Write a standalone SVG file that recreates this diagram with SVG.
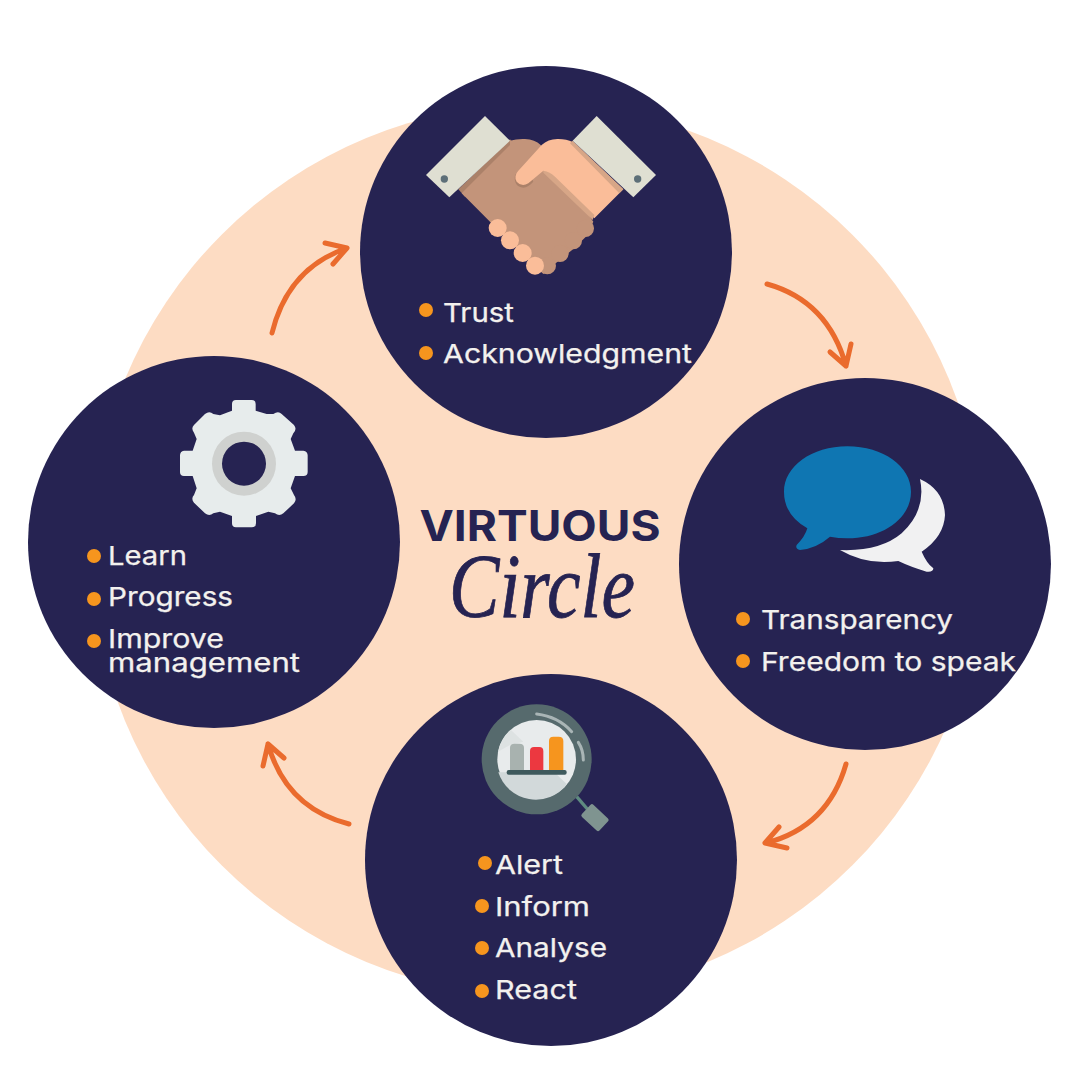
<svg xmlns="http://www.w3.org/2000/svg" width="1080" height="1080" viewBox="0 0 1080 1080">
<style>
.node{fill:#262352}
.lbl{font-family:"Inter","Noto Sans","Liberation Sans",sans-serif;font-size:26px;font-weight:400;fill:#f3f1ee;stroke:#f3f1ee;stroke-width:.25}
.dot{fill:#f6951e}
.arr{fill:none;stroke:#ea6b2d;stroke-width:5;stroke-linecap:round;stroke-linejoin:round}
</style>
<rect width="1080" height="1080" fill="#ffffff"/>
<circle id="backdrop" cx="537" cy="550" r="446" fill="#fddcc3"/>
<g id="connectors">
<path class="arr" d="M767 284Q828 301 846 366M830 352L846 366L851 344"/>
<path class="arr" d="M846 764Q828 827 766 843M779 827L765 843L787 848"/>
<path class="arr" d="M349 824Q286 808 268 744M284 758L268 744L263 766"/>
<path class="arr" d="M272 333Q288 268 347 248M333 264L347 248L325 243"/>
</g>
<g id="title">
<text x="540" y="541" text-anchor="middle" font-family="Inter,'Noto Sans',sans-serif" font-size="42" font-weight="700" fill="#262352" textLength="241" lengthAdjust="spacingAndGlyphs">VIRTUOUS</text>
<text x="542" y="617" text-anchor="middle" font-family="'Liberation Serif',serif" font-style="italic" font-size="92" fill="#262352" stroke="#262352" stroke-width=".8" textLength="186" lengthAdjust="spacingAndGlyphs">Circle</text>
</g>
<g id="node-top">
<circle class="node" cx="546" cy="252" r="186"/>
<g transform="translate(410 100) scale(.33333)">
<path fill="#ab8169" d="M300 118L145 268L165 290L320 140Z"/>
<path fill="#c3947a" d="M300 122Q320 116 345 117Q375 118 392 135L550 365L530 408L490 447L437 490L400 522L240 365L155 280L300 135Z"/>
<g fill="#c3947a"><circle cx="526" cy="385" r="26"/><circle cx="490" cy="422" r="26"/><circle cx="450" cy="460" r="26"/><circle cx="412" cy="497" r="26"/></g>
<path fill="#ab8169" d="M315 225Q310 260 340 263Q355 262 370 245L350 200Z"/>
<path fill="#fabd99" d="M488 126L640 268L553 355L400 212L355 250Q335 262 320 245Q310 228 325 212L395 135Q415 116 445 117Q470 117 488 126Z"/>
<path fill="#d7a687" d="M400 212Q420 215 435 230L553 345L548 360L400 218Z"/>
<path fill="#d7a687" d="M488 122L640 268L628 280L480 130Z"/>
<g fill="#fabd99"><circle cx="263" cy="384" r="27"/><circle cx="300" cy="421" r="27"/><circle cx="338" cy="459" r="27"/><circle cx="375" cy="497" r="27"/></g>
<path fill="#dfdfd2" d="M225 48L300 122L118 292L48 225Z"/>
<path fill="#dfdfd2" d="M560 48L488 122L670 292L738 225Z"/>
<circle cx="103" cy="237" r="11" fill="#5d6f78"/>
<circle cx="683" cy="237" r="11" fill="#5d6f78"/>
</g>
<circle class="dot" cx="426" cy="310" r="7"/><text class="lbl" x="443" y="322" textLength="71" lengthAdjust="spacingAndGlyphs">Trust</text>
<circle class="dot" cx="426" cy="353" r="7"/><text class="lbl" x="443" y="363" textLength="249" lengthAdjust="spacingAndGlyphs">Acknowledgment</text>
</g>
<g id="node-right">
<circle class="node" cx="865" cy="564" r="186"/>
<g transform="translate(770 435) scale(.33333)">
<path fill="#f1f1f2" d="M450 132Q522 165 525 240Q522 305 455 350Q470 385 490 400Q490 412 470 410Q420 395 385 378Q290 392 210 345Q330 350 395 295Q470 225 450 132Z"/>
<path fill="#0f76b2" d="M232 34C340 34 423 95 423 170C423 250 340 310 232 310Q205 310 180 305Q140 340 90 345Q75 342 80 330Q105 305 112 280Q42 240 42 170C42 95 125 34 232 34Z"/>
</g>
<circle class="dot" cx="743" cy="619" r="7"/><text class="lbl" x="761" y="629" textLength="192" lengthAdjust="spacingAndGlyphs">Transparency</text>
<circle class="dot" cx="743" cy="661" r="7"/><text class="lbl" x="761" y="671" textLength="255" lengthAdjust="spacingAndGlyphs">Freedom to speak</text>
</g>
<g id="node-bottom">
<circle class="node" cx="551" cy="860" r="186"/>
<g transform="translate(470 695) scale(.33333)">
<path d="M320 305L352 342" stroke="#5f8a80" stroke-width="10" fill="none"/>
<rect x="339" y="343" width="72" height="50" rx="6" transform="rotate(43 375 368)" fill="#7f9490"/>
<circle cx="200" cy="193" r="165" fill="#566a6d"/>
<circle cx="200" cy="193" r="118" fill="#e8ebec"/>
<path fill="#d2d9da" d="M85 232L253 232L291 268A118 118 0 0 1 85 232Z"/>
<path fill="#dde2e2" d="M122 104A118 118 0 0 0 84 170L120 150L160 140Z"/>
<path fill="#a8b2af" d="M120 158Q120 146 134 146H148Q162 146 162 158V226H120Z"/>
<path fill="#ec3840" d="M180 168Q180 156 192 156H208Q220 156 220 168V226H180Z"/>
<path fill="#f6951e" d="M237 138Q237 125 250 125H266Q280 125 280 138V226H237Z"/>
<rect x="110" y="225" width="180" height="14" rx="6" fill="#3f5a5d"/>
<path d="M200 57Q265 65 305 110M325 142Q340 165 340 195" fill="none" stroke="#a9b5b6" stroke-width="9" stroke-linecap="round"/>
</g>
<circle class="dot" cx="485" cy="863" r="7"/><text class="lbl" x="495" y="874" textLength="68" lengthAdjust="spacingAndGlyphs">Alert</text>
<circle class="dot" cx="482" cy="906" r="7"/><text class="lbl" x="495" y="916" textLength="95" lengthAdjust="spacingAndGlyphs">Inform</text>
<circle class="dot" cx="482" cy="948" r="7"/><text class="lbl" x="495" y="957" textLength="112" lengthAdjust="spacingAndGlyphs">Analyse</text>
<circle class="dot" cx="482" cy="991" r="7"/><text class="lbl" x="495" y="999" textLength="82" lengthAdjust="spacingAndGlyphs">React</text>
</g>
<g id="node-left">
<circle class="node" cx="214" cy="542" r="186"/>
<g transform="translate(170 390) scale(.33333)">
<path fill="#e7ecec" d="M186 42Q186 30 198 30H245Q257 30 257 42V62L290 72L310 72Q325 62 335 72L372 105Q382 118 370 130L362 147L375 182H400Q413 184 413 196V246Q413 258 400 258H375L362 295L372 315Q382 328 372 340L340 370Q328 380 315 370L295 365L258 378V400Q258 412 245 412H198Q186 412 186 400V378L150 365L130 370Q118 380 105 370L72 338Q62 326 72 315L80 295L68 258H42Q30 258 30 246V196Q30 184 42 182H68L80 147L72 128Q62 115 72 105L105 72Q118 62 130 72L150 76L186 62Z"/>
<circle cx="222" cy="221" r="96" fill="#cfd1cf"/>
<circle cx="222" cy="221" r="66" fill="#262352"/>
</g>
<circle class="dot" cx="94" cy="556" r="7"/><text class="lbl" x="108" y="565" textLength="79" lengthAdjust="spacingAndGlyphs">Learn</text>
<circle class="dot" cx="94" cy="599" r="7"/><text class="lbl" x="108" y="606" textLength="125" lengthAdjust="spacingAndGlyphs">Progress</text>
<circle class="dot" cx="94" cy="641" r="7"/><text class="lbl" x="108" y="648" textLength="116" lengthAdjust="spacingAndGlyphs">Improve</text>
<text class="lbl" x="108" y="672" textLength="192" lengthAdjust="spacingAndGlyphs">management</text>
</g>
</svg>
